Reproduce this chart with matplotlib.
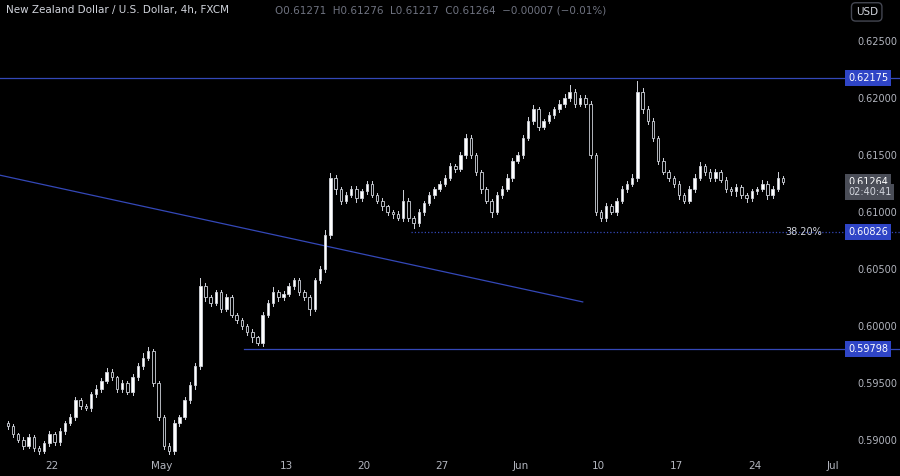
import matplotlib
matplotlib.use("Agg")
import matplotlib.pyplot as plt
from matplotlib.patches import Rectangle

# 8h bars, 3 per trading day; day index 0 = Mon Apr 22 (weekends skipped)
DAY0 = -3
closes = [
    .5912, .5905, .5900,  .5895, .5903, .5893,  .5890, .5897, .5905,
    .5898, .5908, .5915,  .5920, .5935, .5930,  .5928, .5940, .5945,
    .5952, .5960, .5955,  .5945, .5950, .5942,  .5955, .5965, .5972,
    .5978, .5950, .5920,  .5895, .5890, .5915,  .5920, .5935, .5948,
    .5965, .6035, .6025,  .6020, .6030, .6015,  .6025, .6010, .6005,
    .6000, .5995, .5990,  .5985, .6010, .6020,  .6030, .6025, .6028,
    .6035, .6040, .6030,  .6025, .6015, .6040,  .6050, .6080, .6130,
    .6120, .6110, .6115,  .6120, .6112, .6118,  .6125, .6115, .6110,
    .6105, .6100, .6098,  .6095, .6110, .6095,  .6090, .6100, .6108,
    .6115, .6120, .6125,  .6130, .6140, .6138,  .6150, .6165, .6150,
    .6135, .6120, .6110,  .6100, .6115, .6120,  .6130, .6145, .6150,
    .6165, .6180, .6190,  .6175, .6180, .6185,  .6190, .6195, .6200,
    .6205, .6195, .6200,  .6195, .6150, .6100,  .6095, .6105, .6100,
    .6110, .6120, .6125,  .6130, .6205, .6190,  .6180, .6165, .6145,
    .6135, .6130, .6125,  .6115, .6110, .6120,  .6130, .6140, .6135,
    .6130, .6135, .6128,  .6120, .6118, .6122,  .6115, .6112, .6118,
    .6120, .6125, .6115,  .6120, .6130, .61264,
]
first_open = .5915
# wick lengths beyond the body, in pips
upper_wick = [
    3, 4, 3,  5, 4, 3,  3, 4, 5,  4, 5, 4,  5, 6, 4,  3, 5, 6,
    5, 6, 4,  3, 5, 4,  6, 5, 8,  7, 4, 3,  3, 4, 5,  4, 6, 5,
    5, 15, 5,  5, 4, 3,  6, 4, 3,  4, 3, 4,  3, 5, 6,  8, 4, 5,
    6, 5, 4,  3, 4, 5,  6, 8, 8,  5, 4, 5,  6, 5, 4,  4, 5, 3,
    4, 3, 4,  5, 18, 4,  3, 5, 4,  5, 4, 4,  5, 6, 5,  6, 7, 5,
    4, 3, 4,  3, 5, 5,  6, 5, 6,  5, 6, 8,  5, 4, 6,  5, 6, 7,
    12, 5, 6,  5, 4, 3,  4, 5, 4,  5, 6, 5,  6, 20, 8,  6, 5, 4,
    5, 4, 3,  4, 3, 5,  6, 8, 5,  5, 6, 4,  5, 4, 5,  4, 3, 5,
    4, 6, 5,  5, 10, 4,
]
lower_wick = [
    4, 5, 4,  5, 4, 5,  4, 3, 4,  5, 4, 5,  4, 5, 6,  4, 5, 4,
    5, 4, 5,  6, 5, 4,  5, 4, 5,  4, 6, 5,  6, 5, 4,  5, 4, 5,
    6, 5, 6,  5, 4, 5,  4, 5, 4,  5, 6, 8,  4, 5, 4,  5, 6, 5,
    4, 5, 6,  5, 10, 4,  5, 6, 5,  8, 6, 5,  4, 6, 5,  5, 4, 5,
    6, 5, 6,  4, 5, 6,  8, 4, 5,  4, 5, 4,  5, 4, 5,  4, 5, 6,
    5, 6, 5,  8, 4, 5,  4, 5, 4,  5, 4, 5,  6, 5, 4,  5, 4, 5,
    6, 5, 4,  5, 6, 5,  6, 5, 4,  5, 4, 5,  4, 5, 6,  5, 6, 5,
    4, 5, 6,  8, 5, 4,  5, 4, 5,  6, 5, 4,  5, 6, 8,  5, 6, 4,
    5, 4, 8,  5, 4, 3,
]

hlines = [0.62175, 0.60826, 0.59798]      # resistance, 38.2% fib, support
hline_start = [-3.4, 23.0, 12.3]           # day index where each line begins
trend_x = [-3.4, 34.0]
trend_y = [0.61325, 0.60211]
yticks = [0.625, 0.620, 0.615, 0.610, 0.605, 0.600, 0.595, 0.590]
xtick_pos = [0, 7, 15, 20, 25, 30, 35, 40, 45, 50]
xtick_lab = ["22", "May", "13", "20", "27", "Jun", "10", "17", "24", "Jul"]

BG = "#000000"
TXT = "#b2b5be"
BLUE = "#3448b8"

fig = plt.figure(figsize=(9, 4.76), dpi=100, facecolor=BG)
ax = fig.add_axes([0, 21 / 476, 845 / 900, 455 / 476], facecolor=BG)
ax.set_xlim(-3.33, 50.8)
ax.set_ylim(0.58868, 0.62860)

prev = first_open
w = 0.16
for k, c in enumerate(closes):
    x = DAY0 + k / 3 + 1 / 6
    o = prev
    hi = max(o, c) + upper_wick[k] * 1e-4 * 0.5
    lo = min(o, c) - lower_wick[k] * 1e-4 * 0.5
    ax.plot([x, x], [lo, hi], color="#d1d4dc", lw=0.7, zorder=2)
    up = c >= o
    ax.add_patch(Rectangle((x - w / 2, min(o, c)), w, max(abs(c - o), 0.00003),
                           facecolor="#ffffff" if up else "#000000",
                           edgecolor="#d1d4dc", lw=0.6, zorder=3))
    prev = c

for y, x0, ls in zip(hlines, hline_start, ["-", ":", "-"]):
    ax.plot([x0, 60], [y, y], color=BLUE, lw=0.9, ls=ls, zorder=1, clip_on=False)
ax.plot(trend_x, trend_y, color=BLUE, lw=0.9, zorder=1)
ax.text(49.3, hlines[1], "38.20%", color="#d1d4dc", fontsize=7, ha="right", va="center")

for s in ax.spines.values():
    s.set_visible(False)
ax.set_xticks(xtick_pos)
ax.set_xticklabels(xtick_lab)
ax.tick_params(axis="x", colors=TXT, length=0, labelsize=7.5, pad=4)
ax.yaxis.tick_right()
ax.set_yticks(yticks)
ax.set_yticklabels([f"{v:.5f}" for v in yticks])
ax.tick_params(axis="y", colors=TXT, length=0, labelsize=7, pad=9)

def tag(y, text, fc, tc="#ffffff", sub=None):
    ax.text(51.0, y, text, color=tc, fontsize=7, ha="left", va="center",
            bbox=dict(boxstyle="square,pad=0.3", fc=fc, ec="none"), clip_on=False)
    if sub:
        ax.text(51.0, y - 0.0009, sub, color="#d1d4dc", fontsize=7, ha="left", va="center",
                bbox=dict(boxstyle="square,pad=0.3", fc=fc, ec="none"), clip_on=False)

tag(hlines[0], "0.62175", "#2f45c6")
tag(hlines[1], "0.60826", "#2f45c6")
tag(hlines[2], "0.59798", "#2f45c6")
tag(closes[-1], f"{closes[-1]:.5f}", "#4a4d57", sub="02:40:41")

fig.text(0.963, 0.975, "USD", color="#d1d4dc", fontsize=7.5, ha="center", va="center",
         bbox=dict(boxstyle="round,pad=0.4", fc=BG, ec="#434651"))
fig.text(0.007, 0.978, "New Zealand Dollar / U.S. Dollar, 4h, FXCM", color="#d1d4dc",
         fontsize=7.5, va="center")
fig.text(0.306, 0.978, "O0.61271  H0.61276  L0.61217  C0.61264  \u22120.00007 (\u22120.01%)",
         color="#6f7380", fontsize=7.5, va="center")

fig.savefig("out.png", dpi=100, facecolor=BG)
